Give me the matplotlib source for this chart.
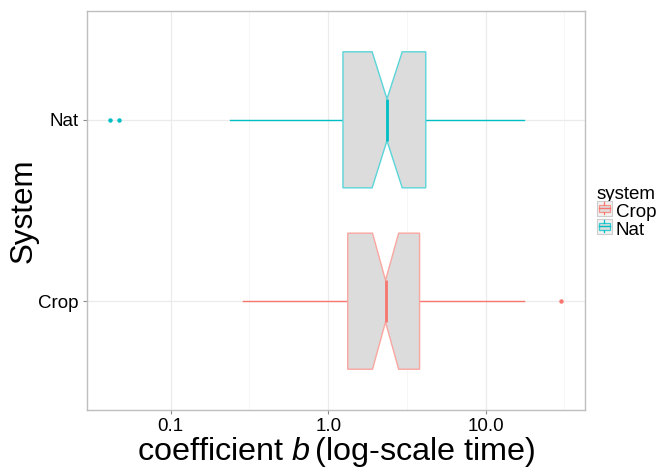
import matplotlib
matplotlib.use('Agg')
import matplotlib.pyplot as plt
from matplotlib.patches import Polygon, Rectangle
from matplotlib.lines import Line2D
from matplotlib.legend_handler import HandlerBase
from matplotlib.ticker import FixedLocator, NullFormatter

plt.rcParams['font.family'] = ['Liberation Sans', 'DejaVu Sans']
plt.rcParams['mathtext.fontset'] = 'custom'
plt.rcParams['mathtext.rm'] = 'Liberation Sans'
plt.rcParams['mathtext.it'] = 'Liberation Sans:italic'

# boxplot summaries per system (coefficient b)
systems = ['Crop', 'Nat']
colors = ['#F8766D', '#00BFC4']
q1 = [1.33, 1.24]
medians = [2.31, 2.36]
q3 = [3.80, 4.16]
notch_lo = [1.91, 1.90]
notch_hi = [2.80, 2.95]
whisk_lo = [0.287, 0.237]
whisk_hi = [17.6, 17.6]
outliers = [[29.9], [0.041, 0.0468]]

major_ticks = [0.1, 1.0, 10.0]
minor_ticks = [0.316, 3.16, 31.6]
tick_labels = ['0.1', '1.0', '10.0']

BOX_FILL = '#DCDCDC'
GRID = '#EBEBEB'


def lighten(c, amt=0.35):
    r, g, b = matplotlib.colors.to_rgb(c)
    return (r + (1 - r) * amt, g + (1 - g) * amt, b + (1 - b) * amt)


fig = plt.figure(figsize=(6.56, 4.68), dpi=100)
ax = fig.add_axes([0.1326, 0.1239, 0.759, 0.8526])

half = 0.375
nhalf = 0.115
for i, name in enumerate(systems):
    y = i + 1
    c = colors[i]
    # whiskers
    ax.plot([whisk_lo[i], q1[i]], [y, y], color=c, lw=1.0, zorder=2)
    ax.plot([q3[i], whisk_hi[i]], [y, y], color=c, lw=1.0, zorder=2)
    # notched box
    pts = [(q1[i], y - half), (notch_lo[i], y - half), (medians[i], y - nhalf),
           (notch_hi[i], y - half), (q3[i], y - half), (q3[i], y + half),
           (notch_hi[i], y + half), (medians[i], y + nhalf), (notch_lo[i], y + half),
           (q1[i], y + half)]
    ax.add_patch(Polygon(pts, closed=True, facecolor=BOX_FILL,
                         edgecolor=lighten(c), lw=1.0, zorder=3))
    ax.plot([medians[i], medians[i]], [y - nhalf, y + nhalf], color=c,
            lw=2.0, zorder=4, solid_capstyle='butt')
    ax.plot(outliers[i], [y] * len(outliers[i]), 'o', color=c, ms=3.2,
            mec='none', zorder=4)

ax.set_xscale('log')
ax.set_xlim(0.0294, 42.6)
ax.set_ylim(0.4, 2.6)
ax.xaxis.set_major_locator(FixedLocator(major_ticks))
ax.set_xticklabels(tick_labels)
ax.xaxis.set_minor_locator(FixedLocator(minor_ticks))
ax.xaxis.set_minor_formatter(NullFormatter())
ax.set_yticks([1, 2])
ax.set_yticklabels(systems)

ax.grid(True, which='major', color=GRID, lw=0.9, zorder=0)
ax.grid(True, which='minor', axis='x', color='#F5F5F5', lw=0.6, zorder=0)
ax.set_axisbelow(True)
for s in ax.spines.values():
    s.set_color('#BEBEBE')
    s.set_linewidth(1.0)
ax.tick_params(which='major', length=3, width=0.8, color='#8C8C8C',
               labelsize=13.5, labelcolor='black', pad=3)
ax.tick_params(which='minor', length=0)

ax.set_xlabel('coefficient $b\\,$(log-scale time)', fontsize=23.3, labelpad=0)
ax.set_ylabel('System', fontsize=22.6)
ax.yaxis.set_label_coords(-0.098, 0.5)


class BoxKey(HandlerBase):
    def create_artists(self, legend, orig, xd, yd, w, h, fs, trans):
        c = orig.get_color()
        s = h
        x0 = xd + (w - s) / 2
        y0 = yd
        bg = Rectangle((x0, y0), s, s, facecolor='#F2F2F2', edgecolor='#CCCCCC',
                       lw=0.8, transform=trans)
        bx = Rectangle((x0 + 0.125 * s, y0 + 0.25 * s), 0.75 * s, 0.5 * s,
                       facecolor=BOX_FILL, edgecolor=lighten(c, 0.2), lw=0.9,
                       transform=trans)
        med = Line2D([x0 + 0.125 * s, x0 + 0.875 * s], [y0 + 0.5 * s] * 2,
                     color=c, lw=1.0, transform=trans)
        w1 = Line2D([x0 + 0.5 * s] * 2, [y0 + 0.1 * s, y0 + 0.25 * s],
                    color=c, lw=0.9, transform=trans)
        w2 = Line2D([x0 + 0.5 * s] * 2, [y0 + 0.75 * s, y0 + 0.9 * s],
                    color=c, lw=0.9, transform=trans)
        return [bg, bx, med, w1, w2]


handles = [Line2D([], [], color=c) for c in colors]
leg = fig.legend(handles, systems, handler_map={Line2D: BoxKey()},
                 loc='upper left', bbox_to_anchor=(0.909, 0.603),
                 frameon=False, fontsize=13.5, title='system',
                 title_fontsize=13.5, handlelength=0.85, handleheight=0.85,
                 handletextpad=0.2, labelspacing=0.0, borderpad=0,
                 borderaxespad=0)
leg._legend_box.align = 'left'

fig.savefig('out.png', dpi=100)
